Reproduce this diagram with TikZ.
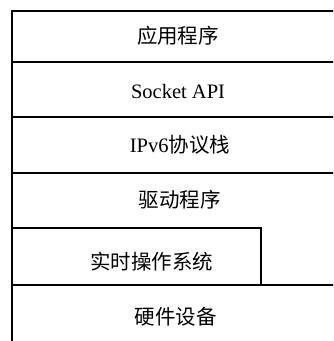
\documentclass[tikz,border=0pt]{standalone}
\usepackage{fontspec}
\setmainfont{Liberation Serif}
\newfontfamily\cjk{Noto Sans CJK SC}
\begin{document}
\begin{tikzpicture}[x=1pt,y=-1pt,
  layer/.style={line width=1.8pt,line cap=rect},
  lbl/.style={font=\fontsize{20.5}{24}\selectfont, inner sep=0pt}]
\useasboundingbox (0,0) rectangle (333,341);
\begin{scope}
\clip (0,0) rectangle (333,341);
\draw[layer] (12,350) -- (12,11) -- (340,11);
\draw[layer] (12,62) -- (340,62);
\draw[layer] (12,117) -- (340,117);
\draw[layer] (12,173) -- (340,173);
\draw[layer] (12,228) -- (261,228) -- (261,285);
\draw[layer] (12,285) -- (340,285);
\end{scope}
\node[lbl] (app) at (178,36) {\cjk 应用程序};
\node[lbl] (sock) at (178,91) {Socket API};
\node[lbl] (ipv6) at (180,145) {IPv6\cjk 协议栈};
\node[lbl] (drv) at (180,200) {\cjk 驱动程序};
\node[lbl] (rtos) at (152,262) {\cjk 实时操作系统};
\node[lbl] (hw) at (176,317) {\cjk 硬件设备};
\end{tikzpicture}
\end{document}
